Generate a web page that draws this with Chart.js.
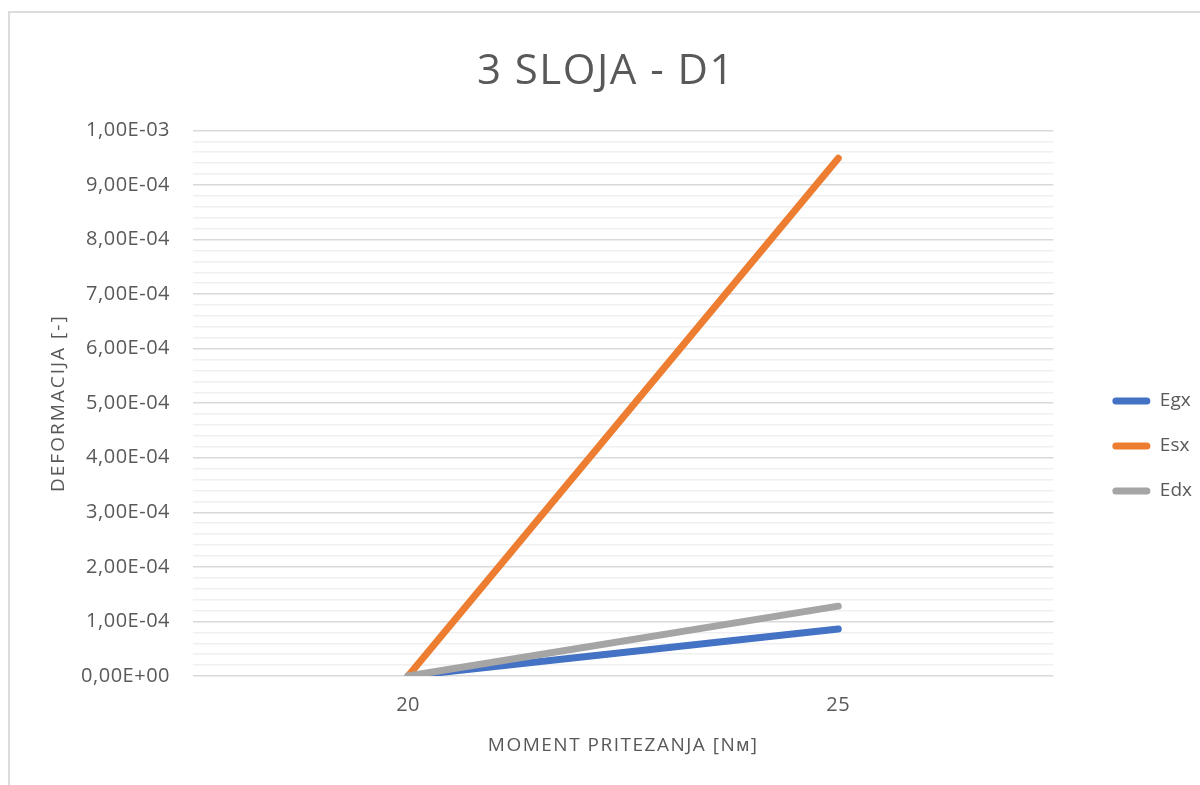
<!DOCTYPE html>
<html>
<head>
<meta charset="utf-8">
<script src="https://cdn.jsdelivr.net/npm/chart.js@4"></script>
<style>
  html, body { margin: 0; padding: 0; background: #fff; overflow: hidden; }
  #wrap {
    position: absolute; left: 8px; top: 11px;
    width: 1190px; height: 772px;
    border-left: 2px solid #dcdcdc; border-top: 2px solid #dcdcdc;
  }
</style>
</head>
<body>
<div id="wrap"><canvas id="chart"></canvas></div>
<script>
/* 3 SLOJA - D1 : deformacija vs moment pritezanja */

const categories = ["20", "25"];

const egx = [0, 8.6e-5];
const esx = [0, 9.49e-4];
const edx = [0, 1.28e-4];

const seriesNames = ["Egx", "Esx", "Edx"];
const seriesColors = ["#4472C4", "#ED7D31", "#A5A5A5"];

const yMax = 1e-3;
const yMinorStep = 2e-5;

const textColor = "#595959";

Chart.defaults.font.family = "'Open Sans', sans-serif";
Chart.defaults.color = textColor;

// Excel style number format 0,00E+00
function sci(v) {
    if (Math.abs(v) < 1e-12) return "0,00E+00";
    const parts = v.toExponential(2).split("e");
    const n = parseInt(parts[1], 10);
    return parts[0].replace(".", ",") + "E" + (n < 0 ? "-" : "+") + String(Math.abs(n)).padStart(2, "0");
}

function isMajor(v) {
    return Math.round(v / yMinorStep) % 5 === 0;
}

// canvas letter spacing for the wide office text
function wrap(obj, name, sp) {
    if (!obj || obj["_ls_" + name]) return;
    const orig = obj[name];
    obj[name] = function (...args) {
        const ctx = this.ctx;
        const prev = ctx.letterSpacing;
        ctx.letterSpacing = sp;
        const r = orig.apply(this, args);
        ctx.letterSpacing = prev;
        return r;
    };
    obj["_ls_" + name] = true;
}

const letterSpacing = {
    id: "letterSpacing",
    beforeDraw(chart) {
        wrap(chart.titleBlock, "draw", "1.5px");
        wrap(chart.scales.x, "drawLabels", "0.5px");
        wrap(chart.scales.x, "drawTitle", "1.5px");
        wrap(chart.scales.y, "drawLabels", "0.5px");
        wrap(chart.scales.y, "drawTitle", "2px");
    }
};

const datasets = [egx, esx, edx].map((values, i) => ({
    label: seriesNames[i],
    data: values,
    borderColor: seriesColors[i],
    backgroundColor: seriesColors[i],
    borderWidth: 7,
    borderCapStyle: "round",
    borderJoinStyle: "round",
    pointRadius: 0,
    pointHoverRadius: 0,
    tension: 0,
    order: 2 - i
}));

new Chart(document.getElementById("chart"), {

    type: "line",

    data: {
        labels: categories,
        datasets: datasets
    },

    plugins: [letterSpacing],

    options: {

        responsive: true,
        maintainAspectRatio: false,
        animation: false,

        layout: {
            padding: { left: 0, top: 0, bottom: 0, right: -2 }
        },

        plugins: {

            title: {
                display: true,
                text: "3 SLOJA - D1",
                color: textColor,
                font: { size: 42, weight: "normal" },
                padding: { top: 34, bottom: 33 }
            },

            legend: {
                position: "right",
                align: "center",
                title: {
                    display: true,
                    text: " ",
                    font: { size: 10 },
                    padding: { top: 0, bottom: 82 }
                },
                labels: {
                    boxWidth: 38,
                    boxHeight: 7,
                    padding: 26,
                    color: textColor,
                    useBorderRadius: true,
                    font: { size: 19 },
                    generateLabels: chart => chart.data.datasets.map((ds, i) => ({
                        text: ds.label,
                        fillStyle: ds.borderColor,
                        strokeStyle: ds.borderColor,
                        lineWidth: 0,
                        borderRadius: 3.5,
                        fontColor: textColor,
                        hidden: false,
                        datasetIndex: i
                    }))
                }
            },

            tooltip: { enabled: false }

        },

        scales: {

            x: {
                offset: true,
                grid: { display: false, drawTicks: false },
                border: { display: false },
                ticks: {
                    color: textColor,
                    font: { size: 20 },
                    padding: 17
                },
                title: {
                    display: true,
                    text: "MOMENT PRITEZANJA [Nᴍ]",
                    color: textColor,
                    font: { size: 19 },
                    padding: { top: 0, bottom: 28 }
                },
                afterFit(scale) { scale.height = 109; }
            },

            y: {
                min: 0,
                max: yMax,
                grid: {
                    drawTicks: false,
                    color: ctx => isMajor(ctx.tick.value) ? "#d9d9d9" : "#f0f0f0",
                    lineWidth: 1.5
                },
                border: { display: false },
                ticks: {
                    stepSize: yMinorStep,
                    autoSkip: false,
                    color: textColor,
                    font: { size: 20 },
                    padding: 23,
                    callback: v => isMajor(v) ? sci(v) : ""
                },
                title: {
                    display: true,
                    text: "DEFORMACIJA [-]",
                    color: textColor,
                    font: { size: 19 },
                    padding: { top: 37, bottom: 0 }
                },
                afterFit(scale) { scale.width = 183; }
            },

            gap: {
                type: "linear",
                position: "right",
                grid: { display: false },
                ticks: { display: false },
                border: { display: false },
                afterFit(scale) { scale.width = 33; }
            }

        }

    }

});
</script>
</body>
</html>
